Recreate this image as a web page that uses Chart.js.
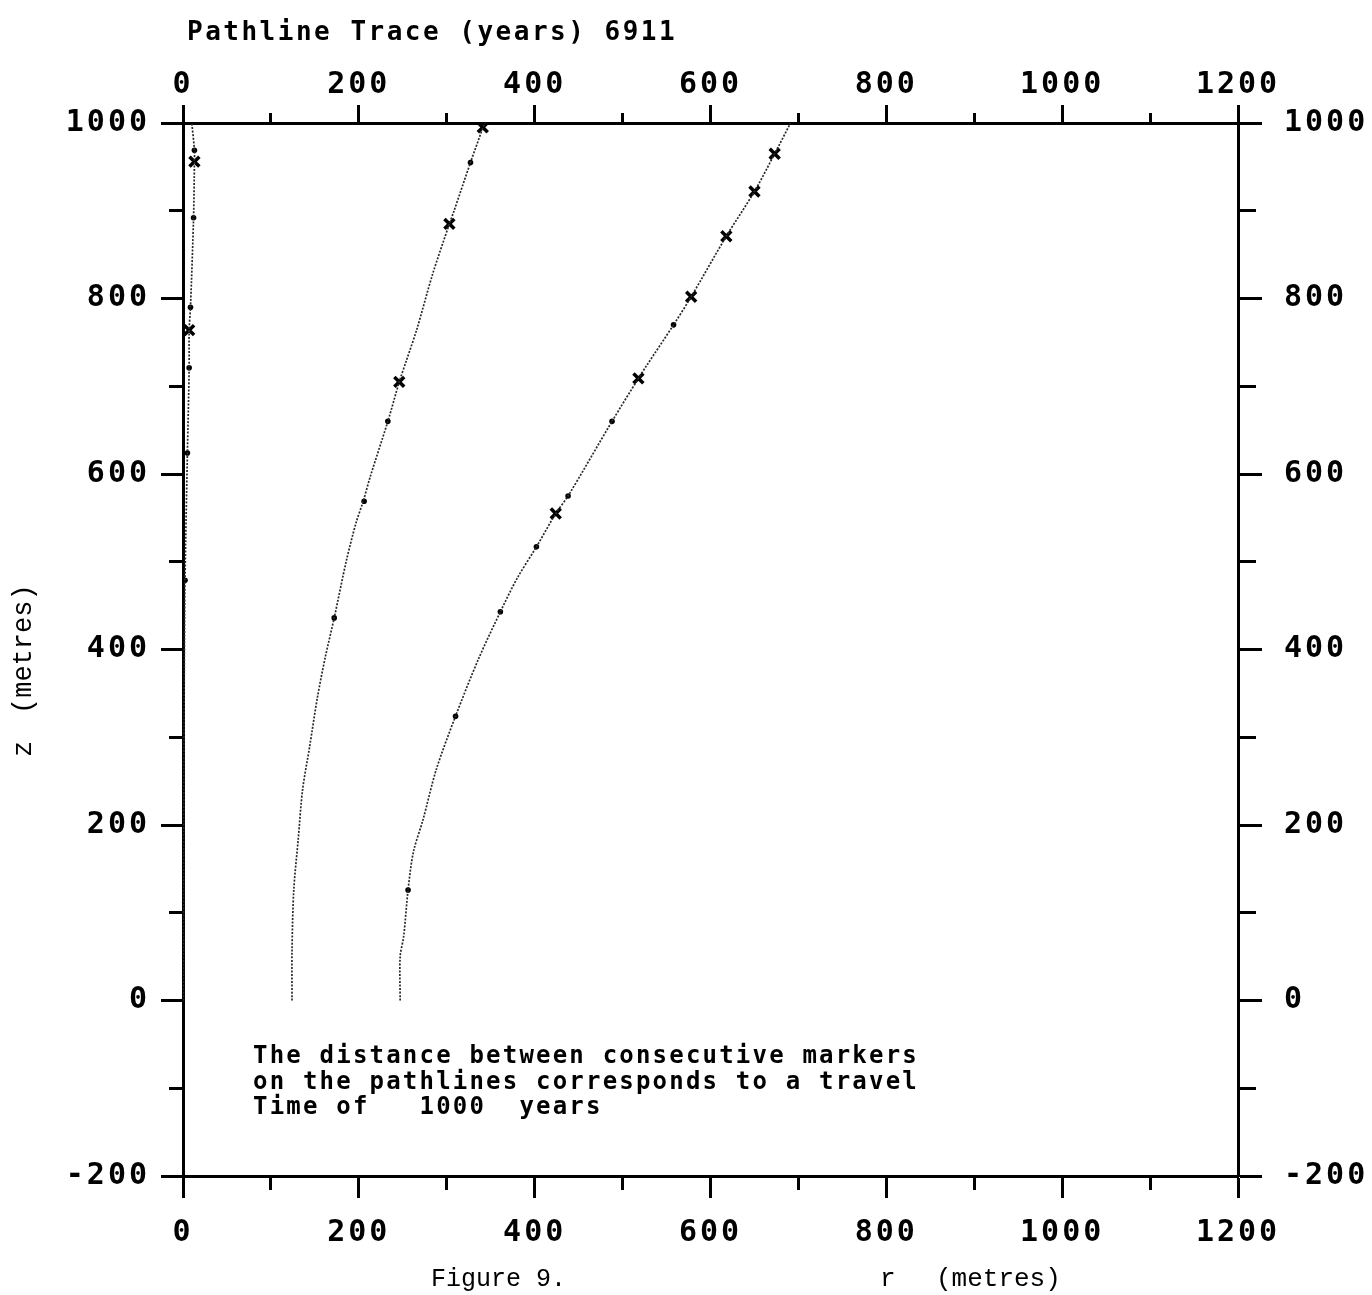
<!DOCTYPE html>
<html>
<head>
<meta charset="utf-8">
<script src="https://cdn.jsdelivr.net/npm/chart.js@4.4.1/dist/chart.umd.min.js"></script>
<style>
  html, body { margin: 0; padding: 0; background: #ffffff; }
  #wrap { width: 1372px; height: 1295px; position: relative; background: #ffffff; }
  canvas { display: block; background: #ffffff; }
</style>
</head>
<body>
<div id="wrap"><canvas id="c" width="1372" height="1295"></canvas></div>
<script>
// ---------- data ----------
// Pathline 1 (near the left axis)
const path1R = [0.5, 0.8, 1.5, 2.3, 5, 7, 7, 8.5, 12, 13, 13, 10];
const path1Z = [0, 200, 380, 479, 624, 721, 764, 790, 892, 956, 969, 1000];
// Pathline 2
const path2R = [124, 124, 126, 131, 136, 144, 153, 162, 172, 186, 197, 205, 213, 233, 246, 254, 266, 284, 303, 308, 327, 343];
const path2Z = [0, 57, 126, 183, 240, 289, 346, 392, 436, 502, 545, 569, 597, 660, 705, 729, 765, 828, 885, 899, 955, 1000];
// Pathline 3
const path3R = [247, 247, 251, 256, 262, 273, 288, 310, 336, 361, 380, 402, 424, 438, 488, 518, 527, 558, 578, 618, 650, 673, 691];
const path3Z = [0, 50, 73, 126, 169, 206, 263, 324, 389, 443, 481, 517, 555, 575, 660, 709, 723, 770, 802, 871, 922, 965, 1000];
// "x" markers (1000-year travel-time markers)
const crossR = [13, 7, 246, 303, 341, 424, 518, 578, 618, 650, 673];
const crossZ = [956, 764, 705, 885, 995, 555, 709, 802, 871, 922, 965];
// small dot markers along the pathlines
const dotR = [13, 12, 8.5, 7, 5, 2.3, 327, 233, 206, 172, 256, 310, 361, 402, 438, 488, 558];
const dotZ = [969, 892, 790, 721, 624, 479, 955, 660, 569, 436, 126, 324, 443, 517, 575, 660, 770];
// tick labels
const rTickLabels = [0, 200, 400, 600, 800, 1000, 1200];
const zTickLabels = [-200, 0, 200, 400, 600, 800, 1000];
// texts
const titleText = 'Pathline Trace (years) 6911';
const noteLines = [
  'The distance between consecutive markers',
  'on the pathlines corresponds to a travel',
  'Time of   1000  years'
];
const figureText = 'Figure 9.';
const rTitle = ['r', '(metres)'];
const zTitle = ['z', '(metres)'];

// ---------- helpers ----------
function pts(rs, zs) { return rs.map((r, i) => ({ x: r, y: zs[i] })); }
const lineStyle = {
  showLine: true, pointRadius: 0, borderColor: '#2a2a2a', borderWidth: 1.7,
  borderDash: [2, 1.5], tension: 0.3, fill: false
};

const plotFont = { family: 'DejaVu Sans Mono', size: 30, weight: 'bold' };

function makeScale(position, min, max, labels, cfg) {
  return {
    type: 'linear', position: position, min: min, max: max,
    afterBuildTicks: (s) => {
      const t = [];
      for (let v = min; v <= max; v += 100) t.push({ value: v });
      s.ticks = t;
    },
    afterFit: (s) => {
      if (cfg.width !== undefined) s.width = cfg.width;
      if (cfg.height !== undefined) s.height = cfg.height;
    },
    ticks: {
      autoSkip: false, maxRotation: 0, minRotation: 0,
      color: '#000', font: plotFont, padding: cfg.padding,
      callback: (v) => labels.includes(v) ? String(v) : ''
    },
    grid: {
      display: true, drawOnChartArea: false, drawTicks: true,
      tickLength: cfg.tickLength, tickWidth: 3, tickColor: '#000',
      tickBorderDash: (ctx) => (ctx.tick && labels.includes(ctx.tick.value)) ? [] : cfg.minorDash,
      tickBorderDashOffset: (ctx) => (ctx.tick && labels.includes(ctx.tick.value)) ? 0 : cfg.minorOffset
    },
    border: { display: true, color: '#000', width: 3 }
  };
}

const textPlugin = {
  id: 'texts',
  beforeDraw(chart) {
    const ctx = chart.ctx;
    ctx.save();
    ctx.fillStyle = '#fff';
    ctx.fillRect(0, 0, chart.width, chart.height);
    ctx.restore();
    ctx.letterSpacing = '3px';
  },
  afterDraw(chart) {
    const ctx = chart.ctx;
    ctx.save();
    ctx.fillStyle = '#000';
    ctx.textBaseline = 'middle';
    ctx.textAlign = 'left';
    // title
    ctx.letterSpacing = '2.5px';
    ctx.font = 'bold 26px "DejaVu Sans Mono"';
    ctx.fillText(titleText, 187, 33);
    // note
    ctx.letterSpacing = '2.2px';
    ctx.font = 'bold 24px "DejaVu Sans Mono"';
    const ny = [1057, 1083, 1108];
    noteLines.forEach((l, i) => ctx.fillText(l, 253, ny[i]));
    // typewriter captions
    ctx.letterSpacing = '0px';
    ctx.font = '25px "Liberation Mono"';
    ctx.fillText(figureText, 431, 1279);
    ctx.font = '26px "Liberation Mono"';
    ctx.fillText(rTitle[0], 880, 1279);
    ctx.fillText(rTitle[1], 936, 1279);
    // vertical z title
    ctx.translate(24, 0);
    ctx.rotate(-Math.PI / 2);
    ctx.font = '27px "Liberation Mono"';
    ctx.fillText(zTitle[0], -757, 0);
    ctx.fillText(zTitle[1], -714, 0);
    ctx.restore();
  }
};

new Chart(document.getElementById('c'), {
  type: 'scatter',
  data: {
    datasets: [
      Object.assign({ label: 'path1', data: pts(path1R, path1Z) }, lineStyle),
      Object.assign({ label: 'path2', data: pts(path2R, path2Z) }, lineStyle),
      Object.assign({ label: 'path3', data: pts(path3R, path3Z) }, lineStyle),
      { label: 'dots', data: pts(dotR, dotZ), pointStyle: 'circle', pointRadius: 2.8,
        backgroundColor: '#000', borderColor: '#000', borderWidth: 0, showLine: false },
      { label: 'crosses', data: pts(crossR, crossZ), pointStyle: 'crossRot', pointRadius: 7,
        borderColor: '#000', borderWidth: 3.5, backgroundColor: '#000', showLine: false }
    ]
  },
  options: {
    responsive: false, animation: false, devicePixelRatio: 1,
    layout: { padding: 0 },
    plugins: { legend: { display: false }, tooltip: { enabled: false }, title: { display: false } },
    scales: {
      x: makeScale('bottom', 0, 1200, rTickLabels, { height: 119, tickLength: 22, padding: 17, minorDash: [12, 60], minorOffset: 0 }),
      x2: makeScale('top', 0, 1200, rTickLabels, { height: 123, tickLength: 18, padding: 2, minorDash: [10, 8], minorOffset: 10 }),
      y: makeScale('left', -200, 1000, zTickLabels, { width: 183, tickLength: 22, padding: 11, minorDash: [14, 8], minorOffset: 14 }),
      y2: makeScale('right', -200, 1000, zTickLabels, { width: 134, tickLength: 24, padding: 22, minorDash: [16, 60], minorOffset: 0 })
    }
  },
  plugins: [textPlugin]
});
</script>
</body>
</html>
